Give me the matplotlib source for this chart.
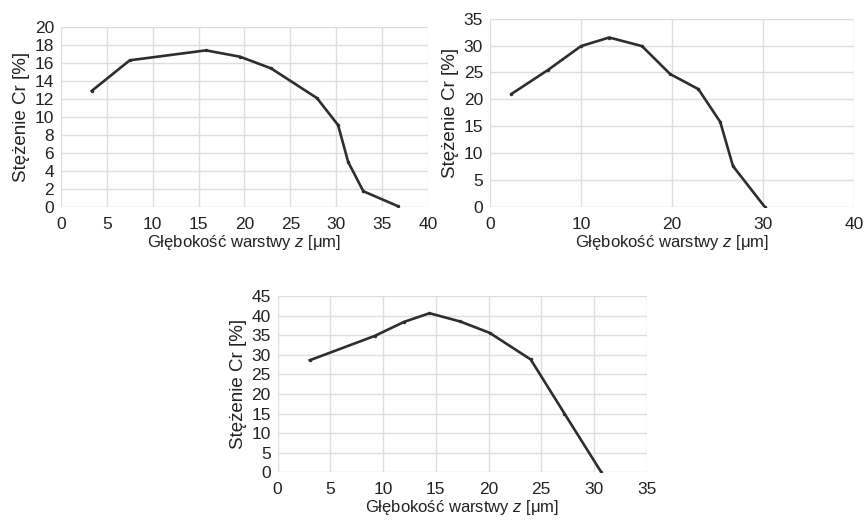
import matplotlib
matplotlib.use("Agg")
from matplotlib import pyplot as plt

plt.rcParams['font.family'] = ['Liberation Sans', 'DejaVu Sans']
plt.rcParams['mathtext.fontset'] = 'custom'
plt.rcParams['mathtext.it'] = 'Liberation Sans:italic'
plt.rcParams['mathtext.rm'] = 'Liberation Sans'

# wykres 1
z_1 = [3.35, 7.5, 15.8, 19.5, 22.9, 27.9, 30.2, 31.3, 32.95, 36.7]
cr_1 = [12.9, 16.3, 17.4, 16.7, 15.4, 12.1, 9.1, 5.0, 1.75, 0.1]

# wykres 2
z_2 = [2.35, 6.4, 10.0, 13.1, 16.7, 19.8, 22.9, 25.3, 26.7, 30.2]
cr_2 = [21.0, 25.5, 29.9, 31.5, 29.9, 24.7, 21.9, 15.8, 7.6, 0.0]

# wykres 3
z_3 = [3.05, 9.2, 12.0, 14.4, 17.3, 20.1, 24.0, 27.2, 30.7]
cr_3 = [28.6, 34.8, 38.4, 40.6, 38.5, 35.6, 28.8, 15.0, 0.0]

x_label = "Głębokość warstwy $z$ [μm]"
y_label = "Stężenie Cr [%]"

fig = plt.figure(figsize=(8.65, 5.26), dpi=100)


def panel(rect, x, y, xmax, xstep, ymax, ystep):
    ax = fig.add_axes(rect)
    ax.plot(x, y, color="#2e2e2e", linewidth=1.9, marker="o", markersize=1.5)
    ax.set_xlim(0, xmax)
    ax.set_ylim(0, ymax)
    ax.set_xticks(range(0, xmax + 1, xstep))
    ax.set_yticks(range(0, ymax + 1, ystep))
    ax.grid(True, color="#dedede", linewidth=1)
    ax.set_axisbelow(True)
    for s in ax.spines.values():
        s.set_visible(False)
    ax.tick_params(length=0, labelsize=12.5, colors="#222222")
    ax.tick_params(axis="x", pad=7)
    ax.tick_params(axis="y", pad=5)
    ax.set_xlabel(x_label, fontsize=12, labelpad=1, color="#222222")
    ax.set_ylabel(y_label, fontsize=13.5, labelpad=3, color="#222222")
    return ax


panel([0.0705, 0.6065, 0.4243, 0.3422], z_1, cr_1, 40, 5, 20, 2)
panel([0.5665, 0.6065, 0.4208, 0.358], z_2, cr_2, 40, 10, 35, 5)
panel([0.321, 0.1021, 0.4266, 0.3352], z_3, cr_3, 35, 5, 45, 5)

plt.savefig("out.png", dpi=100)
